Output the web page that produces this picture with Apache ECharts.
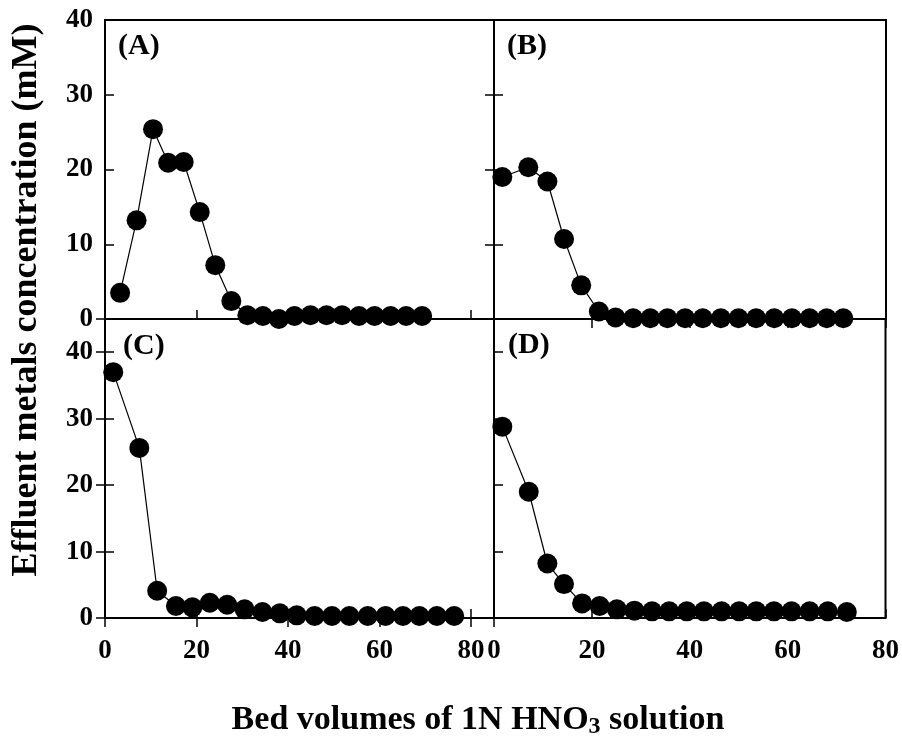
<!DOCTYPE html>
<html>
<head>
<meta charset="utf-8">
<script src="https://cdn.jsdelivr.net/npm/echarts@6/dist/echarts.min.js"></script>
<style>html,body{margin:0;padding:0;background:#fff;}#c{width:902px;height:742px;}</style>
</head>
<body>
<div id="c"></div>
<script>
// Panel (A)
var A_x = [3.3, 6.9, 10.5, 13.8, 17.2, 20.7, 24.1, 27.6, 31.1, 34.5, 38.0, 41.4, 44.9, 48.4, 51.8, 55.5, 58.9, 62.4, 65.8, 69.3];
var A_y = [3.5, 13.2, 25.4, 20.9, 21.0, 14.3, 7.2, 2.4, 0.5, 0.4, 0.0, 0.4, 0.5, 0.5, 0.5, 0.4, 0.4, 0.4, 0.4, 0.4];
// Panel (B)
var B_x = [1.7, 7.0, 10.9, 14.3, 17.8, 21.4, 24.8, 28.4, 31.9, 35.4, 39.0, 42.6, 46.3, 49.9, 53.5, 57.2, 60.8, 64.4, 67.9, 71.3];
var B_y = [19.0, 20.3, 18.4, 10.7, 4.5, 1.0, 0.2, 0.1, 0.1, 0.1, 0.1, 0.1, 0.1, 0.1, 0.1, 0.1, 0.1, 0.1, 0.1, 0.1];
// Panel (C)
var C_x = [1.8, 7.5, 11.4, 15.5, 19.1, 22.9, 26.7, 30.5, 34.4, 38.2, 41.9, 45.8, 49.6, 53.4, 57.4, 61.3, 65.1, 68.7, 72.5, 76.3];
var C_y = [37.0, 25.6, 4.1, 1.8, 1.6, 2.3, 2.0, 1.3, 0.9, 0.7, 0.4, 0.3, 0.3, 0.3, 0.3, 0.3, 0.3, 0.3, 0.3, 0.3];
// Panel (D)
var D_x = [1.7, 7.1, 10.9, 14.3, 18.0, 21.6, 25.1, 28.7, 32.3, 35.8, 39.4, 42.9, 46.5, 50.1, 53.6, 57.2, 60.8, 64.5, 68.2, 72.1];
var D_y = [28.8, 19.0, 8.2, 5.1, 2.2, 1.8, 1.3, 1.1, 1.0, 1.0, 1.0, 1.0, 1.0, 1.0, 1.0, 1.0, 1.0, 1.0, 1.0, 0.9];

var panelLabels = ['(A)', '(B)', '(C)', '(D)'];
var xTickLabels = ['0', '20', '40', '60', '80'];
var yTitle = 'Effluent metals concentration (mM)';
var xTitleMain = 'Bed volumes of 1N HNO';
var xTitleSub = '3';
var xTitleEnd = ' solution';

function pairs(xs, ys) { return xs.map(function (x, i) { return [x, ys[i]]; }); }

var FONT = '"Liberation Serif", "Times New Roman", serif';

function xAxis(grid, max, pos, showLabel, showTicks) {
  return {
    type: 'value', gridIndex: grid, position: pos, min: 0, max: max, interval: 20,
    axisLine: { show: false },
    axisTick: { show: showTicks, inside: true, length: 9, lineStyle: { color: '#000', width: 1.5 } },
    axisLabel: { show: showLabel, showMaxLabel: max === 80, showMinLabel: true, margin: 20,
      fontFamily: FONT, fontWeight: 'bold', fontSize: 27, color: '#000',
      formatter: function (v) { var s = xTickLabels[v / 20]; return s !== undefined ? s : ''; } },
    splitLine: { show: false }
  };
}
function yAxis(grid, max, pos, showLabel) {
  return {
    type: 'value', gridIndex: grid, position: pos, min: 0, max: max, interval: 10,
    axisLine: { show: false },
    axisTick: { show: true, inside: true, length: 9, lineStyle: { color: '#000', width: 1.5 } },
    axisLabel: { show: showLabel, showMaxLabel: max === 40, margin: 12,
      fontFamily: FONT, fontWeight: 'bold', fontSize: 27, color: '#000' },
    splitLine: { show: false }
  };
}

var gridStyle = { show: true, borderColor: '#000', borderWidth: 2, backgroundColor: 'transparent' };
var grids = [
  Object.assign({ left: 105, top: 20, width: 389, height: 299 }, gridStyle),
  Object.assign({ left: 494, top: 20, width: 392, height: 299 }, gridStyle),
  Object.assign({ left: 105, top: 319, width: 389, height: 299 }, gridStyle),
  Object.assign({ left: 494, top: 319, width: 392, height: 299 }, gridStyle)
];

var xAxes = [
  xAxis(0, 85, 'bottom', false, true),
  xAxis(1, 80, 'bottom', false, true),
  xAxis(2, 85, 'bottom', true, true),
  xAxis(3, 80, 'bottom', true, true),
  xAxis(2, 85, 'top', false, true),
  xAxis(3, 80, 'top', false, true)
];
var yAxes = [
  yAxis(0, 40, 'left', true),
  yAxis(1, 40, 'left', false),
  yAxis(2, 45, 'left', true),
  yAxis(3, 45, 'left', false),
  yAxis(0, 40, 'right', false),
  yAxis(2, 45, 'right', false)
];

function series(xi, yi, data) {
  return {
    type: 'line', xAxisIndex: xi, yAxisIndex: yi, data: data, clip: false,
    symbol: 'circle', symbolSize: 20, showSymbol: true,
    itemStyle: { color: '#000' }, lineStyle: { color: '#000', width: 1.2 },
    animation: false, z: 5
  };
}

var labelPos = [[118, 47], [507, 47], [123, 347], [508, 346]];
var graphics = panelLabels.map(function (t, i) {
  return { type: 'text', left: labelPos[i][0], top: labelPos[i][1] - 16, z: 10,
    style: { text: t, fontFamily: FONT, fontWeight: 'bold', fontSize: 30, fill: '#000' } };
});
graphics.push({
  type: 'text', x: 27, y: 300, rotation: Math.PI / 2, z: 10,
  style: { text: yTitle, fontFamily: FONT, fontWeight: 'bold', fontSize: 36, fill: '#000', align: 'center', verticalAlign: 'middle' }
});
graphics.push({
  type: 'text', x: 478, y: 720, z: 10,
  style: {
    text: '{m|' + xTitleMain + '}{s|' + xTitleSub + '}{m|' + xTitleEnd + '}',
    align: 'center', verticalAlign: 'middle',
    rich: {
      m: { fontFamily: FONT, fontWeight: 'bold', fontSize: 34, fill: '#000', color: '#000', lineHeight: 40 },
      s: { fontFamily: FONT, fontWeight: 'bold', fontSize: 24, fill: '#000', color: '#000', lineHeight: 40, padding: [14, 0, 0, 0] }
    }
  }
});

var chart = echarts.init(document.getElementById('c'), null, { renderer: 'canvas' });
chart.setOption({
  animation: false,
  backgroundColor: '#fff',
  grid: grids,
  xAxis: xAxes,
  yAxis: yAxes,
  series: [
    series(0, 0, pairs(A_x, A_y)),
    series(1, 1, pairs(B_x, B_y)),
    series(2, 2, pairs(C_x, C_y)),
    series(3, 3, pairs(D_x, D_y))
  ],
  graphic: graphics
});
</script>
</body>
</html>
